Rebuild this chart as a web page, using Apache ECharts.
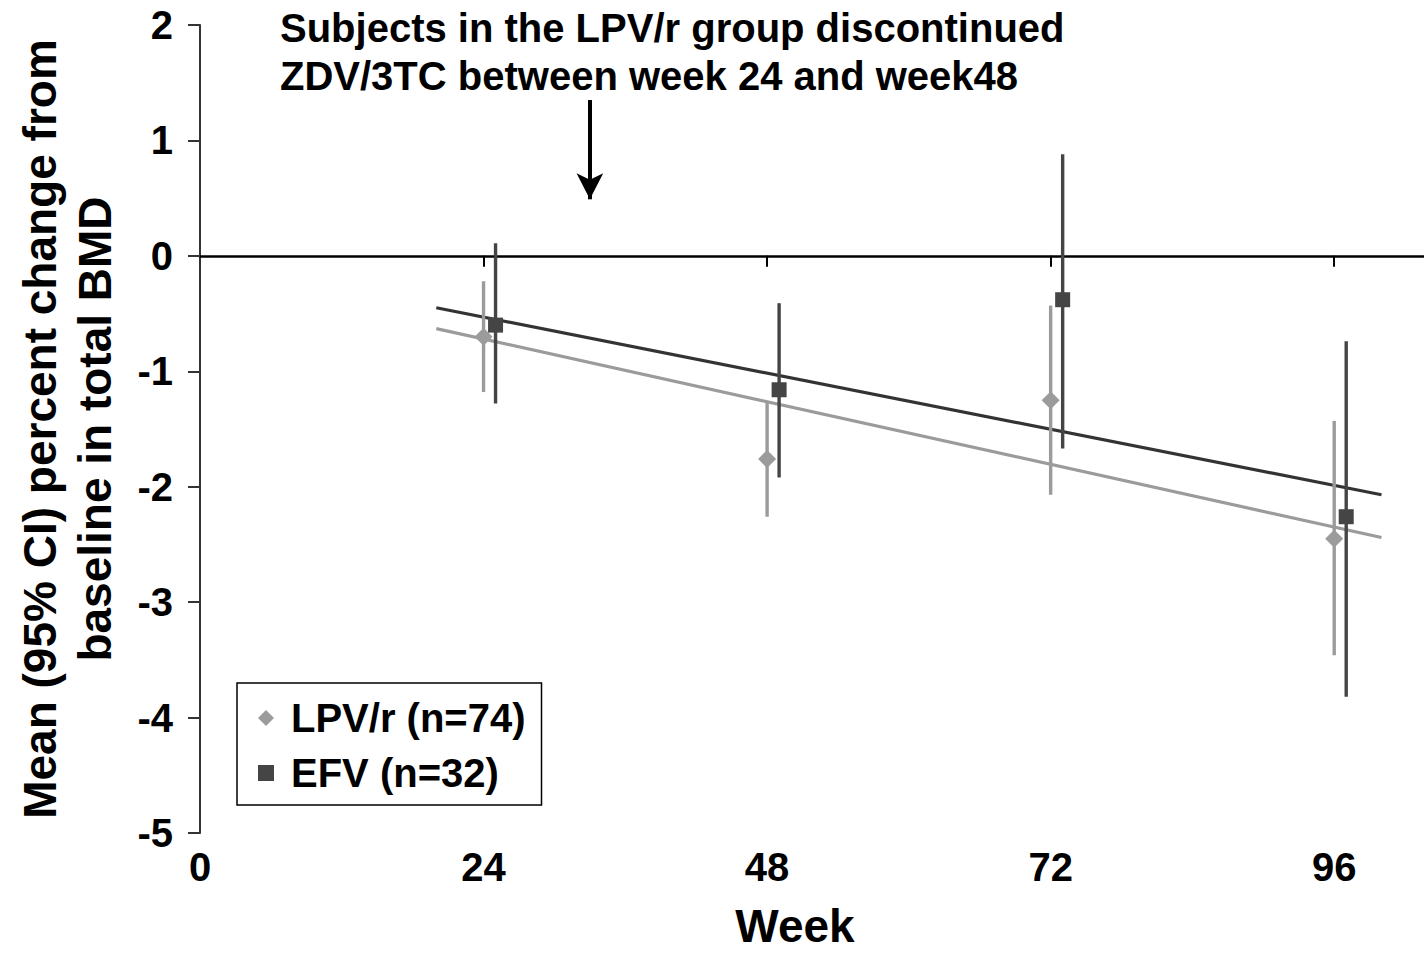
<!DOCTYPE html>
<html>
<head>
<meta charset="utf-8">
<script src="https://cdn.jsdelivr.net/npm/echarts@6/dist/echarts.min.js"></script>
<style>
  html, body { margin: 0; padding: 0; background: #fff; }
  #chart { width: 1424px; height: 954px; }
</style>
</head>
<body>
<div id="chart"></div>
<script>
// Percent change from baseline in total BMD, by week and treatment arm
const weeks = [24, 48, 72, 96];

const lpvMean = [-0.70, -1.76, -1.25, -2.45];
const lpvLow  = [-1.18, -2.26, -2.07, -3.46];
const lpvHigh = [-0.22, -1.27, -0.43, -1.43];

const efvMean = [-0.60, -1.16, -0.38, -2.26];
const efvLow  = [-1.28, -1.92, -1.67, -3.82];
const efvHigh = [0.11, -0.41, 0.88, -0.74];

// Fitted linear trends (start and end weeks)
const trendWeeks = [20, 100];
const lpvTrend = [-0.63, -2.44];
const efvTrend = [-0.45, -2.07];

const xTickLabels = [0, 24, 48, 72, 96];
const xZeroTicks = [24, 48, 72, 96];

const seriesNames = ['LPV/r (n=74)', 'EFV (n=32)'];
const noteText = 'Subjects in the LPV/r group discontinued\nZDV/3TC between week 24 and week48';
const noteArrow = { week: 33, from: 1.35, to: 0.49 };

const FONT = "'Liberation Sans', Arial, Helvetica, sans-serif";
const LIGHT = '#9b9b9b';
const DARK = '#454545';
const EFV_SHIFT = 12; // EFV marks are nudged right so both arms stay visible

function pairs(xs, ys) { return xs.map((x, i) => [x, ys[i]]); }
function ciRows(xs, lo, hi) { return xs.map((x, i) => [x, lo[i], hi[i]]); }

function errorBar(color, shift) {
  return function (params, api) {
    const x = api.value(0);
    const p1 = api.coord([x, api.value(1)]);
    const p2 = api.coord([x, api.value(2)]);
    return {
      type: 'line',
      shape: { x1: p1[0] + shift, y1: p1[1], x2: p2[0] + shift, y2: p2[1] },
      style: { stroke: color, lineWidth: 3.4 }
    };
  };
}

const chart = echarts.init(document.getElementById('chart'), null, { renderer: 'svg' });

chart.setOption({
  animation: false,
  backgroundColor: '#fff',
  grid: { left: 200, right: 0, top: 25, bottom: 119 },
  xAxis: [
    {
      type: 'value', min: 0, max: 103.6, position: 'bottom',
      axisLine: { show: false, onZero: false },
      axisTick: { show: false },
      splitLine: { show: false },
      axisLabel: {
        customValues: xTickLabels,
        margin: 14,
        color: '#000', fontFamily: FONT, fontWeight: 'bold', fontSize: 40
      },
      name: 'Week', nameLocation: 'middle', nameGap: 70,
      nameTextStyle: {
        color: '#000', fontFamily: FONT, fontWeight: 'bold', fontSize: 46,
        padding: [0, 34, 0, 0]
      }
    },
    {
      type: 'value', min: 0, max: 103.6, position: 'top',
      axisLine: { show: true, onZero: true, lineStyle: { color: '#000', width: 2.5 } },
      axisTick: {
        show: true, inside: true, length: 11, customValues: xZeroTicks,
        lineStyle: { color: '#000', width: 2 }
      },
      axisLabel: { show: false },
      splitLine: { show: false }
    }
  ],
  yAxis: {
    type: 'value', min: -5, max: 2, interval: 1,
    axisLine: { show: true, onZero: false, lineStyle: { color: '#333', width: 2 } },
    axisTick: { show: true, length: 12, lineStyle: { color: '#333', width: 2 } },
    splitLine: { show: false },
    axisLabel: {
      margin: 27,
      color: '#000', fontFamily: FONT, fontWeight: 'bold', fontSize: 40
    },
    name: 'Mean (95% CI) percent change from\nbaseline in total BMD',
    nameLocation: 'middle', nameRotate: 90, nameGap: 78,
    nameTextStyle: {
      color: '#000', fontFamily: FONT, fontWeight: 'bold', fontSize: 46,
      lineHeight: 55, align: 'center'
    }
  },
  legend: {
    orient: 'vertical', left: 237, top: 683,
    padding: [15, 16, 12, 21], itemGap: 15,
    itemWidth: 16, itemHeight: 16,
    borderColor: '#000', borderWidth: 1.5, backgroundColor: '#fff',
    textStyle: {
      color: '#000', fontFamily: FONT, fontWeight: 'bold', fontSize: 40,
      padding: [0, 0, 0, 12]
    },
    data: [
      { name: seriesNames[0], icon: 'diamond' },
      { name: seriesNames[1], icon: 'rect', itemStyle: { color: DARK } }
    ]
  },
  graphic: [
    {
      type: 'text', left: 280, top: 4, z: 10,
      style: {
        text: noteText, fill: '#000', lineHeight: 48,
        font: 'bold 40px ' + FONT
      }
    }
  ],
  series: [
    {
      type: 'line', xAxisIndex: 0, data: pairs(trendWeeks, lpvTrend),
      symbol: 'none', lineStyle: { color: LIGHT, width: 3.2 }, z: 2,
      silent: true
    },
    {
      type: 'line', xAxisIndex: 0, data: pairs(trendWeeks, efvTrend),
      symbol: 'none', lineStyle: { color: '#333', width: 3.2 }, z: 2,
      silent: true,
      markLine: {
        silent: true, symbol: ['none', 'arrow'], symbolSize: [20, 26],
        label: { show: false },
        lineStyle: { color: '#000', width: 4, type: 'solid' },
        data: [[
          { coord: [noteArrow.week, noteArrow.from] },
          { coord: [noteArrow.week, noteArrow.to] }
        ]]
      }
    },
    {
      type: 'custom', xAxisIndex: 0, data: ciRows(weeks, lpvLow, lpvHigh),
      renderItem: errorBar(LIGHT, 0), z: 3, clip: false
    },
    {
      type: 'custom', xAxisIndex: 0, data: ciRows(weeks, efvLow, efvHigh),
      renderItem: errorBar(DARK, EFV_SHIFT), z: 3, clip: false
    },
    {
      name: seriesNames[0], type: 'scatter', xAxisIndex: 0,
      data: pairs(weeks, lpvMean), symbol: 'diamond', symbolSize: 18,
      itemStyle: { color: LIGHT, opacity: 1 }, z: 4
    },
    {
      name: seriesNames[1], type: 'scatter', xAxisIndex: 0,
      data: pairs(weeks, efvMean), symbol: 'rect', symbolSize: 15,
      symbolOffset: [EFV_SHIFT, 0],
      itemStyle: { color: DARK, opacity: 1 }, z: 5
    }
  ]
});
</script>
</body>
</html>
